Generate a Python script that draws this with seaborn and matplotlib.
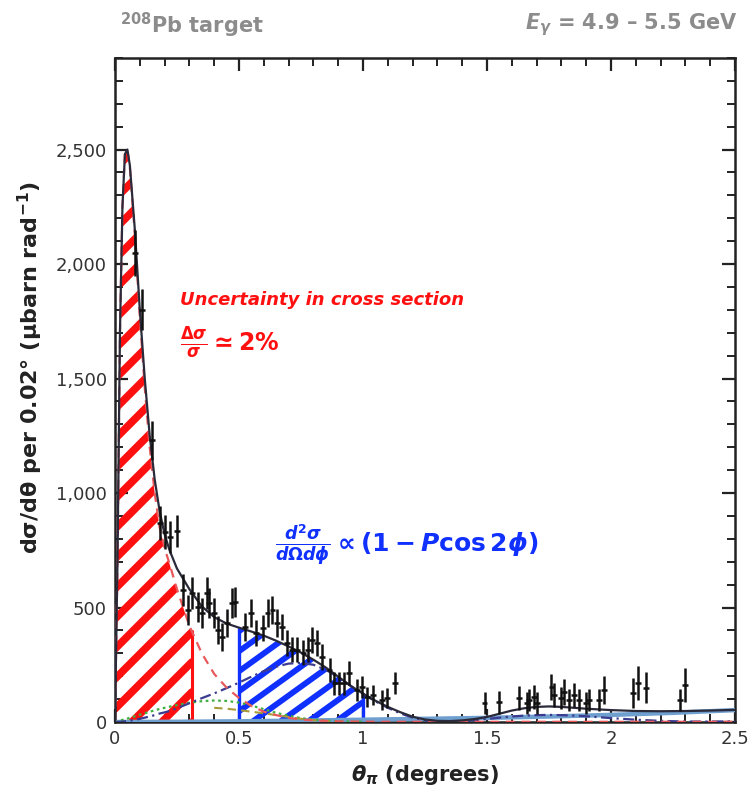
import numpy as np
import pandas as pd
import matplotlib
matplotlib.use("Agg")
import matplotlib.pyplot as plt
from matplotlib.ticker import MultipleLocator, FixedLocator, FixedFormatter
import seaborn as sns

# ---- model curves on a common angular grid (degrees) ----
theta_grid = [0.00, 0.01, 0.02, 0.03, 0.04, 0.05, 0.06, 0.08, 0.10, 0.12,
              0.14, 0.16, 0.18, 0.20, 0.22, 0.25, 0.30, 0.35, 0.40, 0.45,
              0.50, 0.55, 0.60, 0.65, 0.70, 0.75, 0.80, 0.85, 0.90, 0.95,
              1.00, 1.05, 1.10, 1.15, 1.20, 1.25, 1.30, 1.35, 1.40, 1.45,
              1.50, 1.55, 1.60, 1.65, 1.70, 1.75, 1.80, 1.85, 1.90, 1.95,
              2.00, 2.10, 2.20, 2.30, 2.40, 2.50]
total_fit = [0, 700, 1700, 2250, 2480, 2500, 2430, 2150, 1800, 1500,
             1250, 1060, 920, 820, 750, 670, 580, 505, 458, 430,
             412, 395, 377, 355, 330, 303, 272, 238, 198, 158,
             124, 93, 66, 43, 23, 11, 5, 4, 7, 13,
             22, 36, 50, 60, 66, 68, 66, 62, 58, 55,
             52, 48, 47, 48, 50, 53]
primakoff = [0, 700, 1700, 2250, 2480, 2500, 2420, 2130, 1770, 1460,
             1200, 1000, 850, 760, 690, 580, 420, 300, 210, 150,
             105, 70, 45, 30, 18, 11, 7, 5, 3, 2,
             2, 1, 1, 1, 1, 1, 1, 1, 1, 1,
             1, 1, 1, 1, 1, 1, 1, 1, 1, 1,
             1, 1, 1, 1, 1, 1]
nuclear_coherent = [0, 0, 1, 2, 3, 4, 6, 9, 14, 19,
                    24, 30, 37, 42, 48, 60, 82, 104, 125, 148,
                    172, 198, 222, 242, 255, 258, 250, 228, 196, 158,
                    122, 90, 62, 38, 19, 7, 2, 2, 4, 8,
                    13, 19, 24, 28, 30, 31, 30, 28, 25, 21,
                    17, 10, 5, 2, 2, 3]
interference = [0, 3, 6, 9, 12, 15, 18, 25, 32, 38,
                45, 51, 57, 62, 67, 74, 84, 91, 94, 92,
                85, 72, 56, 40, 27, 17, 10, 6, 3, 2, 1]
theta_olive = [0.40, 0.45, 0.50, 0.55, 0.60, 0.65, 0.70, 0.75, 0.80, 0.85, 0.90]
olive_term = [62, 58, 52, 45, 38, 30, 22, 14, 8, 4, 2]
theta_incoh = [0.0, 0.25, 0.5, 0.75, 1.0, 1.25, 1.5, 1.75, 2.0, 2.25, 2.5]
incoherent = [0, 1, 3, 6, 10, 14, 18, 24, 31, 40, 52]

# ---- measured yield per 0.02 deg bin ----
theta_data = [0.08, 0.11, 0.15, 0.18, 0.20, 0.22, 0.25,
              0.275, 0.295, 0.31, 0.335, 0.35, 0.37, 0.38, 0.40, 0.415,
              0.43, 0.45, 0.47, 0.485, 0.525, 0.55, 0.57, 0.595, 0.615,
              0.635, 0.655, 0.675, 0.695, 0.715, 0.735, 0.76, 0.78, 0.795,
              0.815, 0.835, 0.865, 0.885, 0.905, 0.925, 0.945, 0.975, 0.995,
              1.015, 1.04, 1.075, 1.095, 1.13,
              1.49, 1.55, 1.63, 1.66, 1.67, 1.69, 1.70, 1.76, 1.77, 1.80,
              1.81, 1.83, 1.85, 1.87, 1.90, 1.91, 1.95, 1.97, 2.09, 2.11,
              2.14, 2.28, 2.30]
xsec_data = [2050, 1800, 1230, 870, 830, 810, 835,
             577, 490, 563, 503, 476, 563, 520, 476, 402,
             372, 433, 520, 525, 415, 476, 389, 411, 476,
             490, 433, 415, 345, 315, 315, 302, 315, 358,
             345, 284, 227, 170, 170, 170, 214, 140, 153,
             109, 118, 96, 105, 170,
             83, 87, 105, 83, 96, 109, 83, 153, 118, 105,
             131, 96, 118, 96, 83, 96, 96, 140, 127, 170,
             149, 96, 162]
xsec_err = [100, 90, 85, 75, 75, 70, 70,
            70, 65, 70, 65, 65, 70, 65, 65, 60,
            60, 62, 65, 65, 60, 62, 58, 58, 62,
            62, 60, 58, 55, 55, 55, 55, 55, 58,
            58, 55, 52, 50, 50, 50, 52, 48, 48,
            45, 45, 42, 42, 48,
            48, 50, 52, 48, 50, 52, 48, 58, 52, 50,
            55, 50, 52, 50, 48, 50, 50, 60, 65, 75,
            68, 50, 75]

x_ticks = [0, 0.5, 1, 1.5, 2, 2.5]
x_tick_labels = ["0", "0.5", "1", "1.5", "2", "2.5"]
y_ticks = [0, 500, 1000, 1500, 2000, 2500]
y_tick_labels = ["0", "500", "1,000", "1,500", "2,000", "2,500"]

XMAX, YMAX = 2.5, 2900

sns.set_theme(style="ticks")
plt.rcParams["font.family"] = ["DejaVu Sans"]
plt.rcParams["mathtext.fontset"] = "custom"
plt.rcParams["mathtext.rm"] = "DejaVu Sans:bold"
plt.rcParams["mathtext.it"] = "DejaVu Sans:bold:italic"
plt.rcParams["mathtext.bf"] = "DejaVu Sans:bold"

W, H, DPI = 750, 791, 100
fig = plt.figure(figsize=(W / DPI, H / DPI), dpi=DPI)
fig.patch.set_facecolor("white")
ax_left, ax_right, ax_top, ax_bottom = 115, 735, 58, 722
ax = fig.add_axes([ax_left / W, 1 - ax_bottom / H,
                   (ax_right - ax_left) / W, (ax_bottom - ax_top) / H])
ax.set_facecolor("white")

# pixel scale of the data axes, used to lay out the hand-drawn style stripes
px_per_x = (ax_right - ax_left) / XMAX
px_per_y = (ax_bottom - ax_top) / YMAX


def stripes(xs, tops, color, px_slope, px_gap, lw):
    poly = ax.fill_between(xs, 0, tops, facecolor="none", edgecolor="none")
    clip = poly.get_paths()[0]
    slope = px_slope * px_per_x / px_per_y
    gap = px_gap / px_per_y
    x0, x1 = min(xs), max(xs)
    c = -slope * x1 - gap
    while c < max(tops) - slope * x0 + gap:
        ln, = ax.plot([x0, x1], [slope * x0 + c, slope * x1 + c], color=color,
                      lw=lw, solid_capstyle="round", zorder=2)
        ln.set_clip_path(clip, ax.transData)
        c += gap


grid = np.array(theta_grid)

# red shaded band under the Primakoff peak
red_end = 0.31
red_x = list(grid[grid < red_end]) + [red_end]
red_y = list(np.array(primakoff)[grid < red_end]) + [np.interp(red_end, grid, primakoff)]
stripes(red_x, red_y, "#ff1010", 1.0, 30, 5.5)
ax.plot([red_end, red_end], [0, red_y[-1]], color="#ff1010", lw=2.2, zorder=2)

# blue shaded band under the nuclear region
sel = (grid >= 0.5) & (grid <= 1.0)
blue_x = list(grid[sel])
blue_y = list(np.array(total_fit)[sel])
stripes(blue_x, blue_y, "#1030ff", 0.72, 20, 4.2)
ax.plot([0.5, 0.5], [0, blue_y[0]], color="#1030ff", lw=2.4, zorder=2)
ax.plot([1.0, 1.0], [0, blue_y[-1]], color="#1030ff", lw=2.4, zorder=2)

# fit components
sns.lineplot(x=theta_incoh, y=incoherent, ax=ax, color="#6f9fcf", lw=3.2, zorder=3)
sns.lineplot(x=theta_grid[:len(interference)], y=interference, ax=ax,
             color="#3fae3f", lw=1.6, linestyle=(0, (1.2, 1.6)), zorder=3)
sns.lineplot(x=theta_olive, y=olive_term, ax=ax, color="#a89a3a", lw=1.5,
             linestyle=(0, (4, 2.5)), zorder=3)
sns.lineplot(x=theta_grid, y=nuclear_coherent, ax=ax, color="#3b3b8f", lw=1.6,
             linestyle=(0, (5, 2, 1, 2)), zorder=3)
sns.lineplot(x=theta_grid, y=primakoff, ax=ax, color="#e8595c", lw=1.6,
             linestyle=(0, (4, 3)), zorder=3)
sns.lineplot(x=theta_grid, y=total_fit, ax=ax, color="#2a2a3a", lw=1.6, zorder=3)

# data with statistical errors
ax.errorbar(theta_data, xsec_data, yerr=xsec_err, xerr=0.012, fmt="none",
            ecolor="#111111", elinewidth=1.8, capsize=0, zorder=4)

ax.set_xlim(0, XMAX)
ax.set_ylim(0, YMAX)
ax.xaxis.set_major_locator(FixedLocator(x_ticks))
ax.xaxis.set_major_formatter(FixedFormatter(x_tick_labels))
ax.yaxis.set_major_locator(FixedLocator(y_ticks))
ax.yaxis.set_major_formatter(FixedFormatter(y_tick_labels))
ax.xaxis.set_minor_locator(MultipleLocator(0.1))
ax.yaxis.set_minor_locator(MultipleLocator(100))
ax.tick_params(which="both", direction="in", top=True, right=True,
               colors="#222222", labelcolor="#333333", labelsize=13)
ax.tick_params(which="major", length=9.5, width=1.6, pad=6)
ax.tick_params(which="minor", length=5.5, width=1.4)
for s in ax.spines.values():
    s.set_linewidth(1.8)
    s.set_color("#222222")
ax.set_xlabel("")
ax.set_ylabel("")

# handwritten notes
ax.text(0.262, 1844, "Uncertainty in cross section", color="#ff1010",
        fontsize=13, fontstyle="italic", fontweight="bold", va="center", zorder=5)
ax.text(0.262, 1655, r"$\frac{\Delta\sigma}{\sigma}\simeq 2\%$", color="#ff1010",
        fontsize=17, va="center", zorder=5)
ax.text(0.645, 774, r"$\frac{d^2\sigma}{d\Omega d\phi}\propto(1-P\cos 2\phi)$",
        color="#1030ff", fontsize=18, va="center", zorder=5)

# titles and axis labels
fig.text(120 / W, 1 - 25 / H, r"$^{208}$Pb target", color="#8c8c8c",
         fontsize=15, fontweight="bold", ha="left", va="center")
fig.text(737 / W, 1 - 25 / H, r"$E_\gamma$ = 4.9 – 5.5 GeV", color="#8c8c8c",
         fontsize=15, fontweight="bold", ha="right", va="center")
fig.text(30 / W, 1 - 368 / H, "dσ/dθ per 0.02° (μbarn rad$^{-1}$)",
         rotation=90, fontsize=16, fontweight="bold", color="#222222",
         ha="center", va="center")
fig.text(425 / W, 1 - 775 / H, r"$\theta_\pi$ (degrees)", fontsize=15,
         fontweight="bold", color="#222222", ha="center", va="center")

fig.savefig("out.png", dpi=DPI, facecolor="white")
